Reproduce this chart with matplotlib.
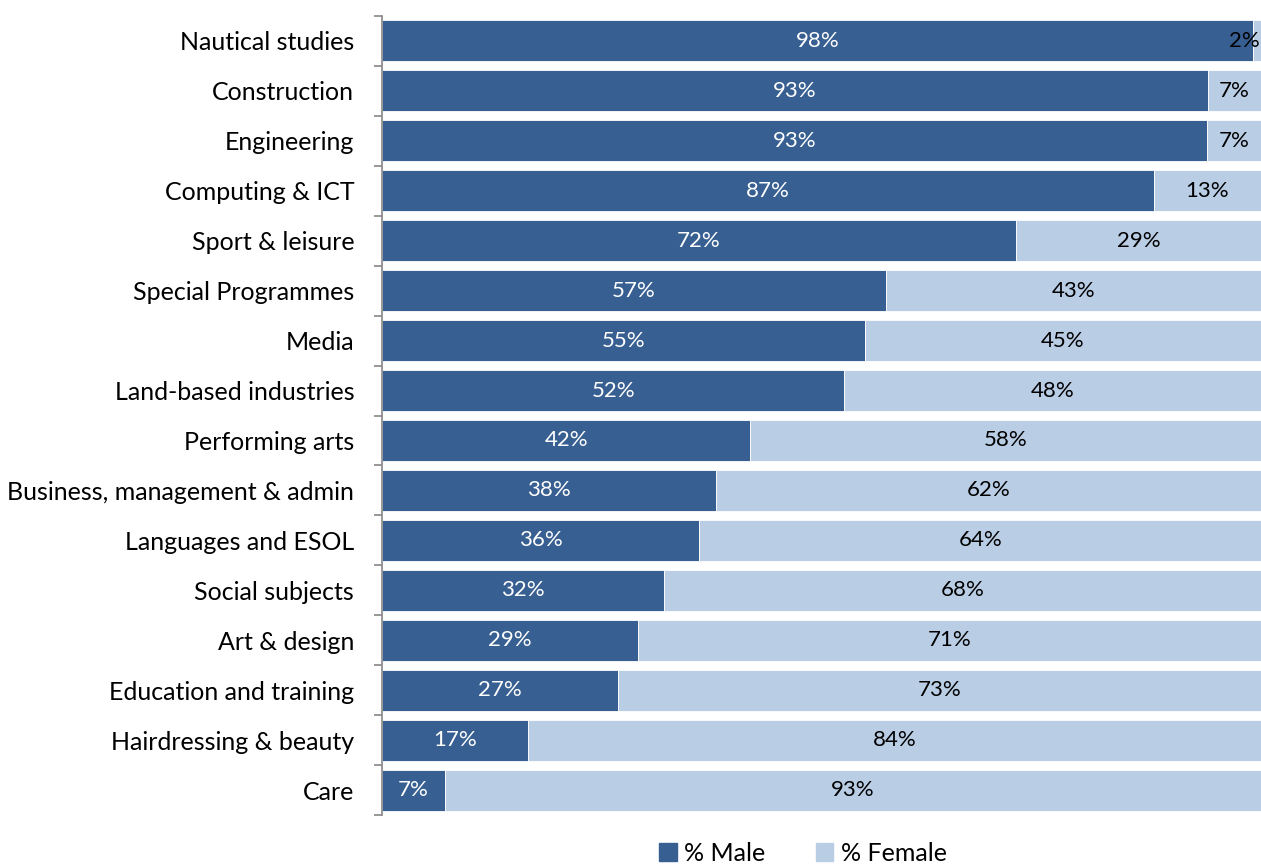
import matplotlib
matplotlib.use("Agg")
import matplotlib.pyplot as plt
from matplotlib.patches import Patch

categories = ["Nautical studies", "Construction", "Engineering", "Computing & ICT",
              "Sport & leisure", "Special Programmes", "Media", "Land-based industries",
              "Performing arts", "Business, management & admin", "Languages and ESOL",
              "Social subjects", "Art & design", "Education and training",
              "Hairdressing & beauty", "Care"]
male_share = [99.1, 94.0, 93.9, 87.8, 72.1, 57.3, 54.9, 52.6, 41.9, 38.0, 36.1,
              32.1, 29.1, 26.8, 16.6, 7.2]
female_share = [100 - m for m in male_share]
male_labels = [98, 93, 93, 87, 72, 57, 55, 52, 42, 38, 36, 32, 29, 27, 17, 7]
female_labels = [2, 7, 7, 13, 29, 43, 45, 48, 58, 62, 64, 68, 71, 73, 84, 93]

male_color = "#375F91"
female_color = "#B9CDE5"

plt.rcParams["font.family"] = ["Lato", "DejaVu Sans"]
fig = plt.figure(figsize=(12.61, 8.64), dpi=100)
ax = fig.add_axes([382/1261, 1-815/864, 1-382/1261, (815-16)/864])

n = len(categories)
ys = list(range(n))
ax.barh(ys, male_share, height=0.82, color=male_color, edgecolor="white", linewidth=0.6)
ax.barh(ys, female_share, left=male_share, height=0.82, color=female_color,
        edgecolor="white", linewidth=0.6)

vfs = 16
for y, m, f, ml, fl in zip(ys, male_share, female_share, male_labels, female_labels):
    ax.text(m/2, y, f"{ml}%", ha="center", va="center", color="white", fontsize=vfs)
    if f < 3:
        ax.text(99.9, y, f"{fl}%", ha="right", va="center", color="black", fontsize=vfs)
    else:
        ax.text(m + f/2, y, f"{fl}%", ha="center", va="center", color="black", fontsize=vfs)

ax.set_xlim(0, 100)
ax.set_ylim(n - 0.5, -0.5)
ax.set_xticks([])
ax.set_yticks([i - 0.5 for i in range(n + 1)])
ax.set_yticklabels([])
ax.set_yticks(ys, minor=True)
ax.set_yticklabels(categories, minor=True, fontsize=18)
ax.tick_params(axis="y", which="major", length=6, color="#868686", width=1.2)
ax.tick_params(axis="y", which="minor", length=0, pad=20)
for s in ["top", "right", "bottom"]:
    ax.spines[s].set_visible(False)
ax.spines["left"].set_color("#868686")
ax.spines["left"].set_linewidth(1.2)

handles = [Patch(color=male_color, label="% Male"), Patch(color=female_color, label="% Female")]
fig.legend(handles=handles, loc="lower center", bbox_to_anchor=(803/1261, -0.027), ncol=2,
           frameon=False, fontsize=18, handlelength=0.7, handleheight=0.7,
           handletextpad=0.3, columnspacing=2.0)

fig.savefig("out.png", dpi=100)
